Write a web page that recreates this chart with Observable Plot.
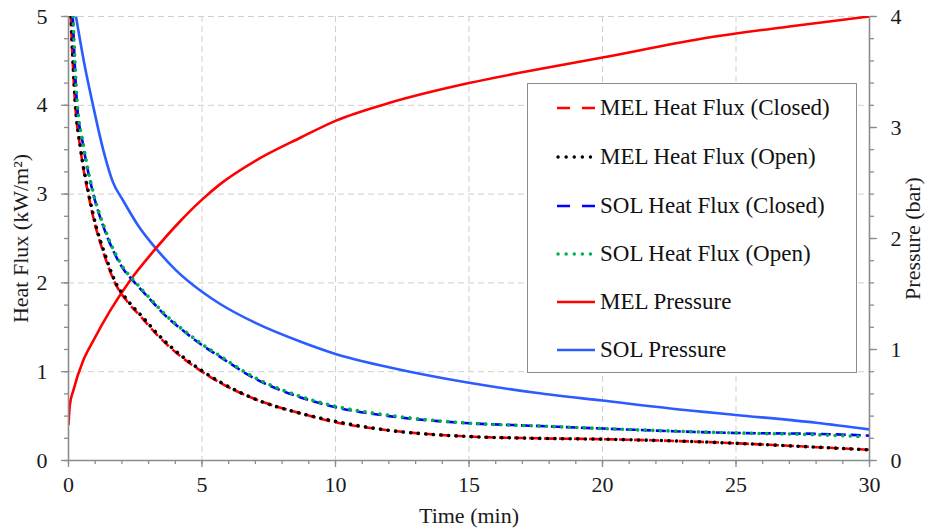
<!DOCTYPE html>
<html>
<head>
<meta charset="utf-8">
<script src="https://cdn.jsdelivr.net/npm/d3@7"></script>
<script src="https://cdn.jsdelivr.net/npm/@observablehq/plot@0.6"></script>
<style>
  html, body { margin: 0; padding: 0; background: #fff; }
  #wrap { position: relative; width: 932px; height: 531px; }
  #legend {
    position: absolute; left: 527px; top: 83px; width: 330px; height: 290px;
    background: #fff; border: 1.5px solid #8c8c8c; box-sizing: border-box;
    font-family: "Liberation Serif", "Times New Roman", "DejaVu Serif", serif; font-size: 23px; color: #111;
  }
  .row { position: absolute; left: 28px; height: 26px; display: flex; align-items: center; white-space: nowrap; }
  .row svg { width: 40px; height: 10px; margin-right: 4px; flex: none; }
</style>
</head>
<body>
<div id="wrap"></div>
<script>
// ---- data (time in minutes) ----
const melFluxClosedT = [0.08, 0.24, 0.45, 0.74, 1.0, 1.3, 1.74, 2.2, 2.74, 3.3, 3.93, 5.0, 5.68, 7.0, 8.7, 10, 12, 15, 17.5, 20, 23.7, 26, 28, 30];
const melFluxClosed  = [5.0, 4.05, 3.5, 3.0, 2.65, 2.35, 2.0, 1.79, 1.61, 1.42, 1.24, 1.0, 0.875, 0.69, 0.53, 0.43, 0.34, 0.27, 0.25, 0.24, 0.21, 0.18, 0.15, 0.12];
const melFluxOpenT   = [0.09, 0.25, 0.46, 0.76, 1.02, 1.32, 1.77, 2.22, 2.76, 3.32, 3.95, 5.0, 5.7, 7.0, 8.7, 10, 12, 15, 17.5, 20, 23.7, 26, 28, 30];
const melFluxOpen    = [5.0, 4.05, 3.5, 3.0, 2.65, 2.36, 2.0, 1.8, 1.62, 1.43, 1.25, 1.01, 0.88, 0.69, 0.53, 0.44, 0.34, 0.27, 0.25, 0.24, 0.21, 0.18, 0.15, 0.12];
const solFluxClosedT = [0.16, 0.31, 0.55, 0.93, 1.3, 1.68, 2.0, 2.49, 3.1, 3.6, 4.3, 5.0, 5.56, 7.0, 8.7, 10, 12, 15, 17.5, 20, 25, 28, 30];
const solFluxClosed  = [5.0, 4.05, 3.55, 3.0, 2.64, 2.36, 2.18, 2.0, 1.8, 1.64, 1.46, 1.30, 1.19, 0.92, 0.71, 0.60, 0.50, 0.42, 0.39, 0.36, 0.31, 0.30, 0.28];
const solFluxOpenT   = [0.17, 0.32, 0.56, 0.94, 1.31, 1.69, 2.01, 2.5, 3.1, 3.6, 4.3, 5.0, 5.56, 7.0, 8.7, 10, 12, 15, 17.5, 20, 25, 28, 29.7];
const solFluxOpen    = [5.0, 4.05, 3.55, 3.0, 2.65, 2.37, 2.19, 2.01, 1.81, 1.65, 1.47, 1.31, 1.20, 0.93, 0.72, 0.61, 0.51, 0.42, 0.39, 0.36, 0.31, 0.29, 0.27];
const melPressT = [0, 0.05, 0.18, 0.55, 0.93, 1.56, 2.3, 3.2, 4.2, 5.0, 5.68, 7.0, 8.7, 10, 12, 15, 17.5, 20, 23.7, 27, 30];
const melPress  = [0.32, 0.5, 0.63, 0.90, 1.08, 1.35, 1.62, 1.89, 2.16, 2.35, 2.49, 2.70, 2.91, 3.06, 3.22, 3.40, 3.52, 3.63, 3.80, 3.91, 4.0];
const solPressT = [0.28, 0.62, 0.9, 1.31, 1.66, 2.05, 2.6, 3.24, 4.0, 5.0, 5.68, 7.0, 8.7, 10, 12, 15, 17.5, 20, 23.7, 25, 28, 30];
const solPress  = [4.0, 3.54, 3.22, 2.79, 2.51, 2.34, 2.12, 1.92, 1.72, 1.52, 1.41, 1.24, 1.07, 0.96, 0.84, 0.70, 0.61, 0.54, 0.44, 0.41, 0.34, 0.28];

const fluxTicks = [0, 1, 2, 3, 4, 5];
const pressTicks = [0, 1, 2, 3, 4];
const timeTicks = [0, 5, 10, 15, 20, 25, 30];

const P2Y = 5 / 4; // pressure axis 0-4 bar mapped onto flux axis 0-5
const toRows = (ts, vs, k = 1) => ts.map((t, i) => ({t, v: vs[i] * k}));

const series = [
  {name: "MEL Heat Flux (Closed)", data: toRows(melFluxClosedT, melFluxClosed), stroke: "#ff0000", dash: "10,5", cap: "butt", w: 2.6},
  {name: "MEL Heat Flux (Open)", data: toRows(melFluxOpenT, melFluxOpen), stroke: "#000000", dash: "0.1,7.5", cap: "round", w: 3.6},
  {name: "SOL Heat Flux (Closed)", data: toRows(solFluxClosedT, solFluxClosed), stroke: "#0000ff", dash: "10,5", cap: "butt", w: 2.6},
  {name: "SOL Heat Flux (Open)", data: toRows(solFluxOpenT, solFluxOpen), stroke: "#00b050", dash: "0.1,7.5", cap: "round", w: 3.6},
  {name: "MEL Pressure", data: toRows(melPressT, melPress, P2Y), stroke: "#ff0000", dash: null, cap: "butt", w: 2.6},
  {name: "SOL Pressure", data: toRows(solPressT, solPress, P2Y), stroke: "#2a5cff", dash: null, cap: "butt", w: 2.6}
];

const font = "'Liberation Serif', 'Times New Roman', 'DejaVu Serif', serif";
const axisColor = "#8c8c8c";
const gridStyle = {stroke: "#cfcfcf", strokeOpacity: 1, strokeDasharray: "6,4", strokeWidth: 1};

const lineMarks = [series[5], series[4], series[0], series[1], series[2], series[3]].map(s =>
  Plot.line(s.data, {x: "t", y: "v", stroke: s.stroke, strokeWidth: s.w,
    strokeDasharray: s.dash ?? undefined, strokeLinecap: s.cap, strokeLinejoin: "round",
    curve: "monotone-x", clip: true})
);

const minor = d3.range(0, 21).map(i => i * 0.25);
const minorX = d3.range(0, 31);

const chart = Plot.plot({
  width: 932, height: 531,
  marginLeft: 68, marginRight: 63, marginTop: 16, marginBottom: 71,
  style: {fontFamily: font, fontSize: "22px", color: "#1a1a1a", background: "#fff", overflow: "visible"},
  x: {domain: [0, 30]},
  y: {domain: [0, 5]},
  marks: [
    Plot.gridX(timeTicks.filter(d => d > 0 && d < 30), gridStyle),
    Plot.gridY(fluxTicks.filter(d => d > 0), gridStyle),
    ...lineMarks,
    // minor ticks
    Plot.axisX(minorX, {tickSize: 4, tickFormat: () => "", label: null, stroke: axisColor, strokeWidth: 1.3}),
    Plot.axisY(minor, {anchor: "left", tickSize: 4, tickFormat: () => "", label: null, stroke: axisColor, strokeWidth: 1.3}),
    Plot.axisY(minor, {anchor: "right", tickSize: 4, tickFormat: () => "", label: null, stroke: axisColor, strokeWidth: 1.3}),
    // major ticks + labels
    Plot.axisX(timeTicks, {tickSize: 7, tickPadding: 9, stroke: axisColor, strokeWidth: 1.3, tickFormat: d => String(d),
      label: "Time (min)", labelAnchor: "center", labelArrow: "none", labelOffset: 62}),
    Plot.axisY(fluxTicks, {anchor: "left", tickSize: 7, tickPadding: 14, stroke: axisColor, strokeWidth: 1.3, tickFormat: d => String(d),
      label: "Heat Flux (kW/m²)", labelAnchor: "center", labelArrow: "none", labelOffset: 56}),
    Plot.axisY(pressTicks.map(p => p * P2Y), {anchor: "right", tickSize: 7, tickPadding: 14, stroke: axisColor, strokeWidth: 1.3,
      tickFormat: d => String(Math.round(d / P2Y)),
      label: "Pressure (bar)", labelAnchor: "center", labelArrow: "none", labelOffset: 50}),
    // axis lines
    Plot.ruleX([0, 30], {stroke: axisColor, strokeWidth: 1.6}),
    Plot.ruleY([0], {stroke: axisColor, strokeWidth: 1.6})
  ]
});

const wrap = document.getElementById("wrap");
wrap.appendChild(chart);

// legend overlay
const legend = document.createElement("div");
legend.id = "legend";
const rowTops = [10.5, 59.5, 108.5, 156.5, 204.5, 252.5];
series.forEach((s, i) => {
  const row = document.createElement("div");
  row.className = "row";
  row.style.top = rowTops[i] + "px";
  const dash = s.dash ? (s.cap === "round" ? "0.1,8" : "13,12") : null;
  row.innerHTML = `<svg viewBox="0 0 40 10"><line x1="${s.cap === "round" ? 2 : 1}" x2="39" y1="5" y2="5" stroke="${s.stroke}" stroke-width="${s.cap === "round" ? 3.4 : 2.6}" ${dash ? `stroke-dasharray="${dash}"` : ""} stroke-linecap="${s.cap}"/></svg><span>${s.name}</span>`;
  legend.appendChild(row);
});
wrap.appendChild(legend);
</script>
</body>
</html>
